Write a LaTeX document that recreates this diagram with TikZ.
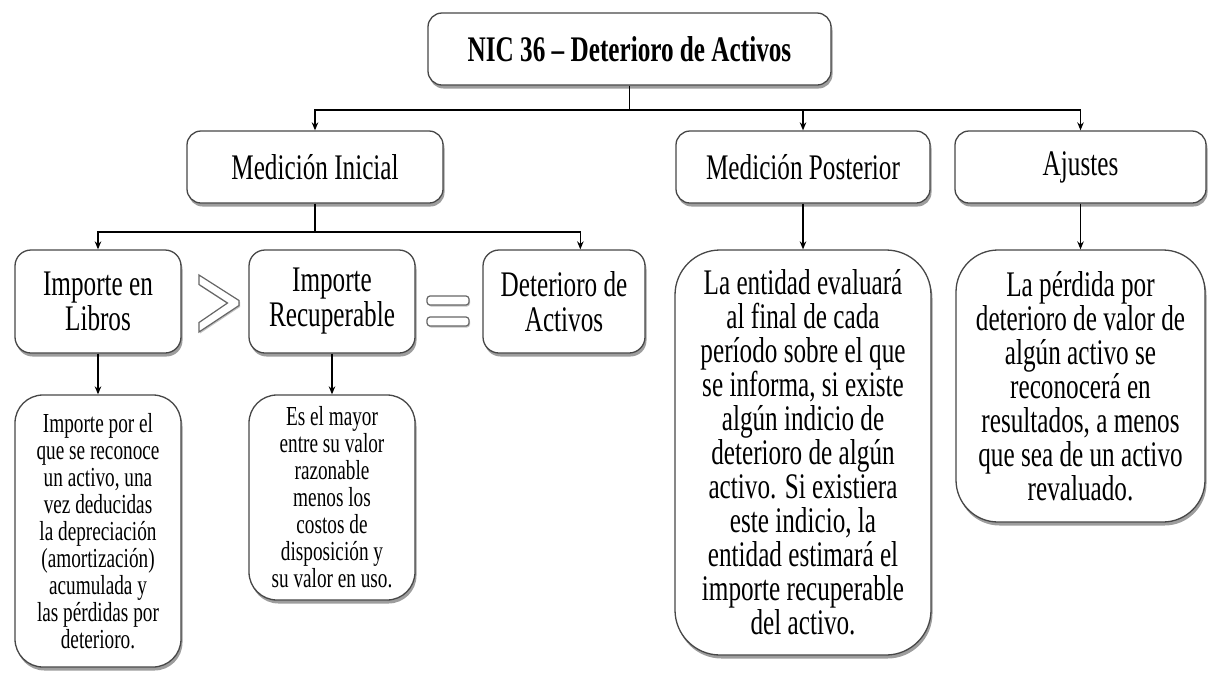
\documentclass[tikz,border=0pt]{standalone}
\usepackage{fontspec}
\newfontfamily\nf[FakeStretch=0.7]{Liberation Serif}
\usetikzlibrary{shadows,arrows.meta,calc}
\newcommand\bigf{\nf\fontsize{36}{34}\selectfont\lineskiplimit=-1000pt\relax}
\newcommand\midf{\nf\fontsize{36}{35}\selectfont\lineskiplimit=-1000pt\relax}
\newcommand\smallf{\nf\fontsize{27.5}{27}\selectfont\lineskiplimit=-1000pt\relax}
\newcommand\headf{\nf\bfseries\fontsize{36}{40}\selectfont}
\begin{document}
\begin{tikzpicture}[x=1pt,y=-1pt,
  box/.style={draw=black!72, line width=1.3pt, fill=white, align=center, inner sep=2pt,
    rounded corners=14pt, font=\bigf,
    drop shadow={shadow xshift=1.5pt, shadow yshift=-3.5pt, opacity=0.55, fill=black!70}},
  con/.style={line width=1.6pt, black},
  tip/.tip={Stealth[length=8pt,width=6.5pt]},
  sym/.style={draw=black!60, line width=1.2pt, fill=white,
    drop shadow={shadow xshift=1pt, shadow yshift=-1.5pt, opacity=0.4, fill=black!60}}
]
\useasboundingbox (0,0) rectangle (1217,673);

% top level
\node[box, minimum width=403pt, minimum height=72pt, font=\headf] (title) at (629.5,49) {NIC 36 – Deterioro de Activos};
\node[box, minimum width=256pt, minimum height=72pt] (mi) at (315,167) {Medición Inicial};
\node[box, minimum width=254pt, minimum height=72pt] (mp) at (803,167) {Medición Posterior};
\node[box, minimum width=251pt, minimum height=72pt] (aj) at (1080.5,167) {Ajustes};

% second row
\node[box, font=\midf, minimum width=166pt, minimum height=103pt, rounded corners=16pt] (il) at (98,301.5) {Importe en\\Libros};
\node[box, font=\midf, minimum width=166pt, minimum height=103pt, rounded corners=16pt] (ir) at (332,301.5) {Importe\\Recuperable};
\node[box, font=\midf, minimum width=162pt, minimum height=103pt, rounded corners=16pt] (da) at (564,301.5) {Deterioro de\\Activos};

% lower boxes
\node[box, font=\smallf, minimum width=166pt, minimum height=272pt, rounded corners=28pt] (ill) at (98,531)
  {Importe por el\\que se reconoce\\un activo, una\\vez deducidas\\la depreciación\\(amortización)\\acumulada y\\las pérdidas por\\deterioro.};
\node[box, font=\smallf, minimum width=166pt, minimum height=205pt, rounded corners=28pt] (irl) at (332,497.5)
  {Es el mayor\\entre su valor\\razonable\\menos los\\costos de\\disposición y\\su valor en uso.};
\node[box, minimum width=256pt, minimum height=405pt, rounded corners=45pt] (mpl) at (803,452.5)
  {La entidad evaluará\\al final de cada\\período sobre el que\\se informa, si existe\\algún indicio de\\deterioro de algún\\activo. Si existiera\\este indicio, la\\entidad estimará el\\importe recuperable\\del activo.};
\node[box, minimum width=249pt, minimum height=272pt, rounded corners=42pt] (ajl) at (1080.5,386)
  {La pérdida por\\deterioro de valor de\\algún activo se\\reconocerá en\\resultados, a menos\\que sea de un activo\\revaluado.};

% symbols > and =
\draw[sym, line join=miter] (199,275) -- (239,300.5) -- (239,305.5) -- (199,332) -- (199,322.5) -- (227.5,303) -- (199,284.5) -- cycle;
\draw[sym, rounded corners=3pt] (427,296) rectangle (469,305);
\draw[sym, rounded corners=3pt] (427,317) rectangle (469,326);

% connectors
\coordinate (h1) at (0,110);
\coordinate (h2) at (0,232);
\coordinate (daIn) at ($(da.north west)!0.6!(da.north east)$);
\draw[con] (title.south) -- (title.south |- h1);
\draw[con, tip-tip] (mi.north) |- (aj.north |- h1) -- (aj.north);
\draw[con, -tip] (mp.north |- h1) -- (mp.north);
\draw[con] (mi.south) -- (mi.south |- h2);
\draw[con, tip-tip] (il.north) |- (daIn |- h2) -- (daIn);
\draw[con, -tip] (il.south) -- (ill.north);
\draw[con, -tip] (ir.south) -- (irl.north);
\draw[con, -tip] (mp.south) -- (mpl.north);
\draw[con, -tip] (aj.south) -- (ajl.north);
\end{tikzpicture}
\end{document}
